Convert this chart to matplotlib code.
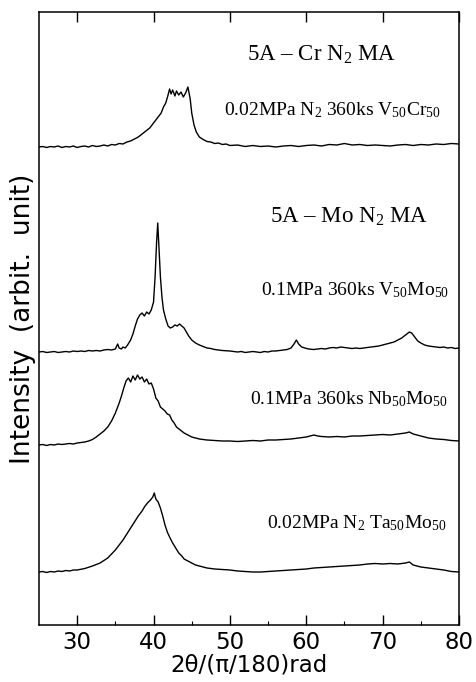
import matplotlib
matplotlib.use('Agg')
import matplotlib.pyplot as plt
import numpy as np

# XRD patterns, intensity (arbitrary units, relative to each baseline)
x_cr = [25, 25.5, 26, 26.5, 27, 27.5, 28, 28.5, 29, 29.5, 30, 30.5, 31, 31.5, 32, 32.5,
        33, 33.5, 34, 34.5, 35, 35.5, 36, 36.5, 37, 37.5, 38, 38.5, 39, 39.5, 40, 40.5,
        41, 41.3, 41.6, 41.9, 42.1, 42.3, 42.5, 42.8, 43.0, 43.3, 43.6, 43.9, 44.2, 44.5,
        44.8, 45.0, 45.3, 45.6, 46, 46.5, 47, 47.5, 48, 48.5, 49, 49.5, 50, 51, 52, 53,
        54, 55, 56, 57, 58, 59, 60, 61, 62, 63, 64, 65, 66, 67, 68, 69, 70, 71, 72, 73,
        74, 75, 76, 77, 78, 79, 80]
y_cr = [0, 0.5, -0.5, 0.5, 0, 1, -0.5, 0.5, 0, 1, -0.5, 0.5, 1, 0, 1.5, 0.5,
        1, 2, 1, 2.5, 2, 3.5, 3, 5, 6, 8, 10, 13, 16, 19, 24, 29,
        34, 40, 44, 52, 58, 53, 57, 51, 56, 52, 55, 50, 54, 60,
        48, 34, 22, 15, 10, 7.5, 5.5, 5, 3.5, 4, 2.5, 3, 1.5, 2, 0.5, 1.5,
        0.5, 1, 0, 1, 1.5, 0.5, 1.5, 2, 1, 2.5, 2, 3.5, 2, 2.5, 1.5, 2, 1.5, 1, 2, 2.5,
        1.5, 2.5, 2, 3, 2.5, 3.5, 3]

x_v = [25, 25.5, 26, 26.5, 27, 27.5, 28, 28.5, 29, 29.5, 30, 30.5, 31, 31.5, 32, 32.5,
       33, 33.5, 34, 34.5, 35, 35.3, 35.5, 35.8, 36, 36.3, 36.6, 37, 37.3, 37.6, 37.9,
       38.2, 38.5, 38.8, 39.1, 39.4, 39.7, 40.0, 40.2, 40.4, 40.55, 40.7, 40.9, 41.1,
       41.3, 41.6, 41.9, 42.2, 42.5, 42.8, 43.1, 43.4, 43.7, 44.0, 44.3, 44.6, 45, 45.5,
       46, 46.5, 47, 47.5, 48, 48.5, 49, 50, 50.5, 51, 51.5, 52, 52.5, 53, 53.5, 54,
       54.5, 55, 55.5, 56, 56.5, 57, 57.5, 58, 58.4, 58.7, 59, 59.4, 59.8, 60.3, 61,
       61.5, 62, 62.5, 63, 63.5, 64, 64.5, 65, 65.5, 66, 66.5, 67, 67.5, 68, 68.5, 69,
       69.5, 70, 70.5, 71, 71.5, 72, 72.5, 73, 73.5, 73.8, 74.2, 74.6, 75, 75.5, 76,
       76.5, 77, 77.5, 78, 78.5, 79, 79.5, 80]
y_v = [0, 0.5, -0.5, 0, 0.5, -0.5, 0, 0.5, 0, 1, 0.5, 1, 0.5, 1.5, 1, 1.5,
       1, 2, 2.5, 2, 3, 8, 4, 3, 5, 4, 7, 12, 18, 26, 33,
       37, 39, 36, 40, 38, 42, 50, 75, 110, 129, 105, 75, 55,
       42, 33, 26, 24, 25, 27, 26, 28, 26, 24, 20, 16, 12, 9,
       7, 5.5, 4, 3.5, 2.5, 2, 1.5, 1, 0.5, 0, 0.5, -0.5, 0, 0.5, 0, -0.5,
       0.5, 0, 1, 1, 1.5, 2, 2.5, 4, 8, 12, 8, 5, 4, 3, 2.5,
       3, 3.5, 3, 4, 4.5, 4, 5, 4.5, 4, 3.5, 4, 3.5, 4, 4.5, 5, 5.5,
       6, 7, 8, 9, 10, 12, 14, 17, 20, 19, 15, 11, 9, 7, 6,
       5.5, 5, 4.5, 5, 4, 4.5, 3.5, 4]

x_nb = [25, 25.5, 26, 26.5, 27, 27.5, 28, 28.5, 29, 29.5, 30, 30.5, 31, 31.5, 32, 32.5,
        33, 33.5, 34, 34.5, 35, 35.5, 35.8, 36.1, 36.4, 36.7, 37.0, 37.3, 37.6, 37.9,
        38.2, 38.5, 38.8, 39.1, 39.4, 39.7, 40.0, 40.3, 40.6, 40.9, 41.2, 41.5, 41.8,
        42.1, 42.4, 42.7, 43, 43.5, 44, 44.5, 45, 45.5, 46, 46.5, 47, 48, 49, 50, 51, 52,
        53, 54, 55, 56, 57, 58, 59, 60, 61, 61.5, 62, 63, 64, 65, 66, 67, 68, 69, 70, 71,
        72, 73, 73.5, 74, 75, 76, 77, 78, 79, 80]
y_nb = [0, 0.5, -0.5, 0.5, 0, 1, 0.5, 1, 1.5, 1, 2, 2.5, 3, 4, 5.5, 8,
        11, 14, 18, 24, 32, 42, 49, 57, 64, 67, 63, 69, 65, 70,
        66, 68, 63, 66, 61, 62, 56, 47, 44, 38, 36, 34, 31,
        30, 25, 22, 18, 15, 12, 10, 8, 7, 6, 5.5, 5, 4.5, 4, 4, 3.5, 4,
        4.5, 4, 5, 5, 5.5, 6, 7, 8, 10, 9, 8.5, 8, 8.5, 8, 9, 9, 9.5, 10, 10.5, 10,
        11, 12, 13, 11, 9, 7, 6, 5.5, 4.5, 4]

x_ta = [25, 25.5, 26, 26.5, 27, 27.5, 28, 28.5, 29, 29.5, 30, 31, 32, 33, 34, 34.5,
        35, 35.5, 36, 36.5, 37, 37.5, 38, 38.5, 38.8, 39.2, 39.6, 39.9, 40.1, 40.3,
        40.6, 40.9, 41.2, 41.5, 41.8, 42.1, 42.5, 42.9, 43.3, 43.7, 44, 44.5, 45, 45.5,
        46, 46.5, 47, 48, 49, 50, 51, 52, 53, 54, 55, 56, 57, 58, 59, 60, 61, 62, 63, 64,
        65, 66, 67, 68, 69, 70, 71, 72, 73, 73.5, 74, 75, 76, 77, 78, 79, 80]
y_ta = [0, 0.5, -0.5, 0.5, 0, 1, 0.5, 1.5, 1, 2, 2, 3.5, 6, 9, 14, 18,
        22, 27, 32, 38, 44, 50, 56, 61, 65, 69, 72, 75, 79, 73,
        70, 64, 56, 47, 40, 35, 29, 24, 19, 16, 13, 11, 9, 7,
        6, 5, 4, 3, 2.5, 2, 1, 0.5, 0, 0, 0.5, 1, 1.5, 2, 2.5, 3, 4, 4.5, 5, 5.5,
        6, 6.5, 7, 8, 8.5, 8, 8.5, 8, 9, 10, 7, 5, 4, 3, 2, 0.5, 0]

patterns = [(x_cr, y_cr), (x_v, y_v), (x_nb, y_nb), (x_ta, y_ta)]
offsets = [478, 273, 180, 53]

# annotations: (text, x, y, size)
labels = [
    (r'5A – Cr N$_2$ MA', 52.3, 570, 16.5),
    (r'0.02MPa N$_2$ 360ks V$_{50}$Cr$_{50}$', 49.2, 515, 14),
    (r'5A – Mo N$_2$ MA', 55.3, 408, 16.5),
    (r'0.1MPa 360ks V$_{50}$Mo$_{50}$', 54.1, 335, 14),
    (r'0.1MPa 360ks Nb$_{50}$Mo$_{50}$', 52.6, 226, 14),
    (r'0.02MPa N$_2$ Ta$_{50}$Mo$_{50}$', 54.9, 102, 14),
]

plt.rcParams['mathtext.fontset'] = 'custom'
plt.rcParams['mathtext.rm'] = 'Liberation Serif'
plt.rcParams['mathtext.it'] = 'Liberation Serif'

fig = plt.figure(figsize=(4.76, 6.82), dpi=100)
ax = fig.add_axes([39/476, 57/682, 420/476, 613/682])

for (x, y), off in zip(patterns, offsets):
    ax.plot(x, np.array(y) + off, color='black', lw=1.0)

for text, tx, ty, fs in labels:
    ax.text(tx, ty, text, fontsize=fs, family='Liberation Serif',
            ha='left', va='center')

ax.set_xlim(25, 80)
ax.set_ylim(0, 613)
ax.set_xticks([30, 40, 50, 60, 70, 80])
ax.set_xticks([35, 45, 55, 65, 75], minor=True)
ax.set_yticks([])
ax.tick_params(axis='x', which='major', direction='in', top=True, length=7,
               width=1.0, labelsize=16.5, pad=4)
ax.tick_params(axis='x', which='minor', direction='in', top=False, length=3, width=0.8)
for sp in ax.spines.values():
    sp.set_linewidth(1.1)

ax.set_xlabel('2θ/(π/180)rad', fontsize=16.5, labelpad=0)
ax.set_ylabel('Intensity  (arbit.  unit)', fontsize=19, labelpad=2)

fig.savefig('out.png', dpi=100)
